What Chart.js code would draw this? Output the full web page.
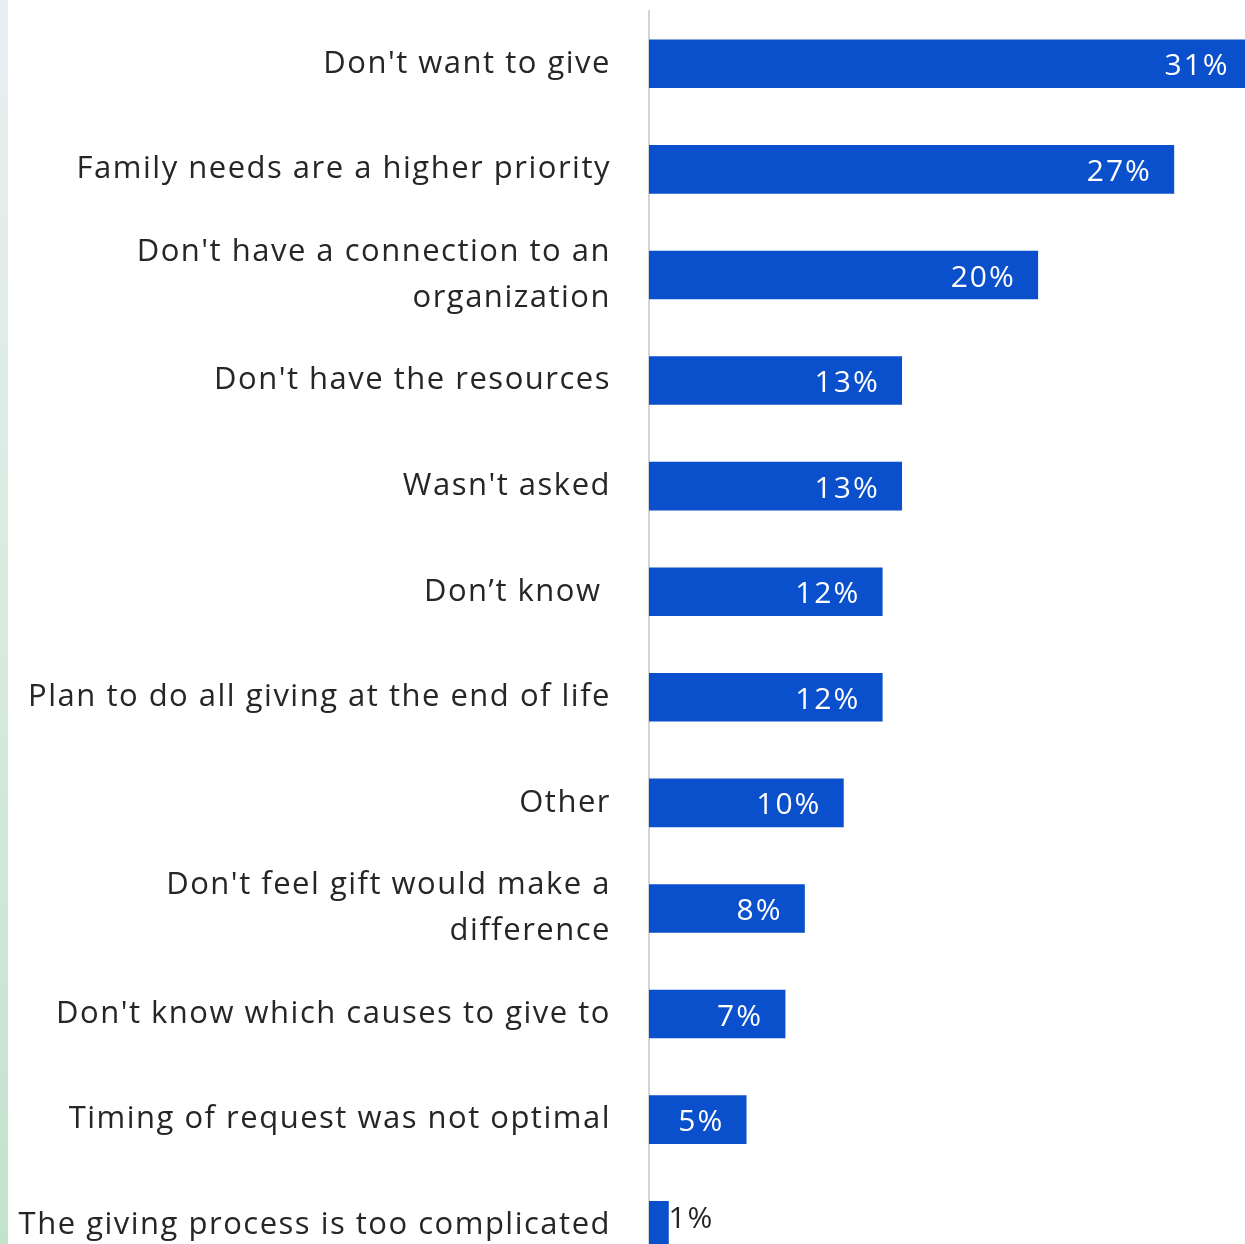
<!DOCTYPE html>
<html>
<head>
<meta charset="utf-8">
<script src="https://cdn.jsdelivr.net/npm/chart.js@4/dist/chart.umd.min.js"></script>
<style>
  html, body { margin: 0; padding: 0; background: #ffffff; overflow: hidden; }
  #wrap { position: relative; width: 1245px; height: 1244px; overflow: hidden; }
  #strip { position: absolute; left: 0; top: 0; width: 8px; height: 1244px;
           background: linear-gradient(to bottom, #e9eef2 0%, #d9ebe0 45%, #c2e3cb 100%); }
  #c { position: absolute; left: 0; top: 0; }
</style>
</head>
<body>
<div id="wrap">
  <div id="strip"></div>
  <canvas id="c" width="1245" height="1290"></canvas>
</div>
<script>
// Reasons for not giving, share of respondents (%)
const reasons = [
  "Don't want to give",
  "Family needs are a higher priority",
  ["Don't have a connection to an", "organization"],
  "Don't have the resources",
  "Wasn't asked",
  "Don\u2019t know ",
  "Plan to do all giving at the end of life",
  "Other",
  ["Don't feel gift would make a", "difference"],
  "Don't know which causes to give to",
  "Timing of request was not optimal",
  "The giving process is too complicated"
];
const shares = [31, 27, 20, 13, 13, 12, 12, 10, 8, 7, 5, 1];
const shareLabels = ["31%", "27%", "20%", "13%", "13%", "12%", "12%", "10%", "8%", "7%", "5%", "1%"];

const FONT = "'Open Sans', sans-serif";

// Slightly open tracking for all text drawn on the canvas
const tracking = {
  id: 'tracking',
  beforeUpdate(chart) { chart.ctx.letterSpacing = '1.5px'; },
  beforeDraw(chart) { chart.ctx.letterSpacing = '1.5px'; }
};

// Writes each bar's percentage: inside the bar end in white, or just past a short bar in dark text
const valueLabels = {
  id: 'valueLabels',
  afterDatasetsDraw(chart) {
    const ctx = chart.ctx;
    const meta = chart.getDatasetMeta(0);
    ctx.save();
    ctx.font = "30px " + FONT;
    ctx.letterSpacing = '2px';
    ctx.textBaseline = 'middle';
    meta.data.forEach((bar, i) => {
      const width = bar.x - bar.base;
      if (width > 60) {
        ctx.fillStyle = '#ffffff';
        ctx.textAlign = 'right';
        ctx.fillText(shareLabels[i], bar.x - 22, bar.y + 3);
      } else {
        ctx.fillStyle = '#262626';
        ctx.textAlign = 'left';
        ctx.fillText(shareLabels[i], bar.x, bar.y - 6);
      }
    });
    ctx.restore();
  }
};

new Chart(document.getElementById('c'), {
  type: 'bar',
  data: {
    labels: reasons,
    datasets: [{
      data: shares,
      backgroundColor: '#0a4fcc',
      borderWidth: 0,
      barThickness: 48
    }]
  },
  options: {
    indexAxis: 'y',
    responsive: false,
    animation: false,
    layout: { padding: { top: 11, bottom: 12, left: 0, right: 0 } },
    plugins: { legend: { display: false }, tooltip: { enabled: false } },
    scales: {
      x: {
        display: false,
        min: 0,
        max: 30.66
      },
      y: {
        afterFit(scale) {
          scale.width = 649;
          scale.paddingTop = 0;
          scale.paddingBottom = 0;
        },
        grid: { display: false },
        border: { display: true, color: '#d4d4d4', width: 2 },
        ticks: {
          color: '#262626',
          padding: 30,
          font: { family: FONT, size: 31, lineHeight: 1.48 }
        }
      }
    }
  },
  plugins: [tracking, valueLabels]
});
</script>
</body>
</html>
